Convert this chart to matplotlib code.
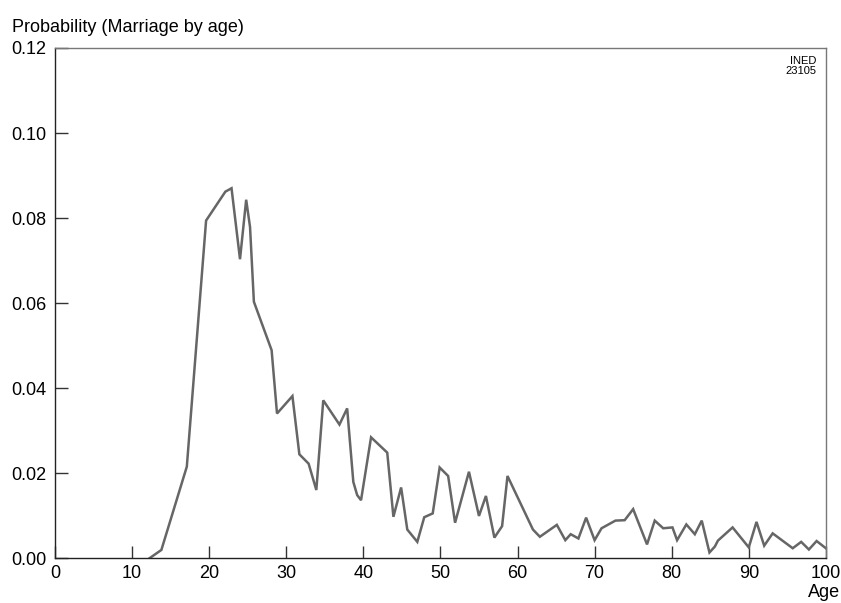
import matplotlib
matplotlib.use('Agg')
import matplotlib.pyplot as plt

plt.rcParams['font.family'] = ['Liberation Sans', 'DejaVu Sans']

# ages and probability of marriage
age = [12.3, 13.8, 17.1, 19.6, 22.1, 22.9, 24.0, 24.8, 25.3, 25.8, 28.1, 28.8,
       30.8, 31.7, 32.9, 33.9, 34.8, 36.9, 37.9, 38.7, 39.2, 39.7, 41.0, 43.1,
       43.9, 44.9, 45.7, 47.0, 47.9, 49.0, 49.9, 51.0, 51.9, 53.7, 55.0, 55.9,
       57.0, 58.0, 58.7, 62.0, 62.9, 65.1, 66.2, 66.9, 67.9, 68.9, 70.0, 70.9,
       72.7, 73.9, 75.0, 76.8, 77.8, 78.9, 80.1, 80.7, 81.9, 83.0, 83.9, 84.9,
       85.6, 86.0, 87.9, 90.0, 91.0, 92.0, 93.1, 95.7, 96.8, 97.8, 98.8, 100.0]
prob = [0.0, 0.0019, 0.0215, 0.0794, 0.0862, 0.0870, 0.0703, 0.0843, 0.0779,
        0.0603, 0.0489, 0.0340, 0.0381, 0.0244, 0.0222, 0.0160, 0.0371, 0.0314,
        0.0352, 0.0179, 0.0148, 0.0136, 0.0284, 0.0248, 0.0097, 0.0166, 0.0067,
        0.0038, 0.0096, 0.0105, 0.0213, 0.0193, 0.0083, 0.0203, 0.0099, 0.0146,
        0.0048, 0.0075, 0.0193, 0.0067, 0.0050, 0.0078, 0.0042, 0.0056, 0.0046,
        0.0095, 0.0042, 0.0070, 0.0088, 0.0089, 0.0115, 0.0032, 0.0088, 0.0070,
        0.0072, 0.0042, 0.0079, 0.0056, 0.0088, 0.0013, 0.0027, 0.0041, 0.0072,
        0.0025, 0.0085, 0.0029, 0.0058, 0.0023, 0.0038, 0.0020, 0.0040, 0.0023]

xticks = list(range(0, 101, 10))
yticks = [0.00, 0.02, 0.04, 0.06, 0.08, 0.10, 0.12]

fig = plt.figure(figsize=(8.41, 6.03), dpi=100)
ax = fig.add_axes([0.0654, 0.0746, 0.9166, 0.8458])

ax.plot(age, prob, color='#666666', lw=1.8, solid_joinstyle='miter')

ax.set_xlim(0, 100)
ax.set_ylim(0, 0.12)
ax.set_xticks(xticks)
ax.set_yticks(yticks)
ax.set_yticklabels(['%.2f' % v for v in yticks])
ax.tick_params(direction='in', length=9, width=1, color='#333333',
               labelsize=13)
ax.tick_params(axis='y', pad=6)
ax.tick_params(axis='x', pad=5)

for side in ['top', 'right']:
    ax.spines[side].set_color('#777777')
    ax.spines[side].set_linewidth(1)
for side in ['left', 'bottom']:
    ax.spines[side].set_color('#222222')
    ax.spines[side].set_linewidth(1)

fig.text(0.014, 0.947, 'Probability (Marriage by age)', fontsize=13,
         ha='left', va='baseline')
fig.text(0.999, 0.004, 'Age', fontsize=13, ha='right', va='bottom')
ax.text(0.988, 0.985, 'INED\n23105', transform=ax.transAxes, fontsize=8,
        ha='right', va='top', linespacing=1.0)

fig.savefig('out.png', dpi=100)
